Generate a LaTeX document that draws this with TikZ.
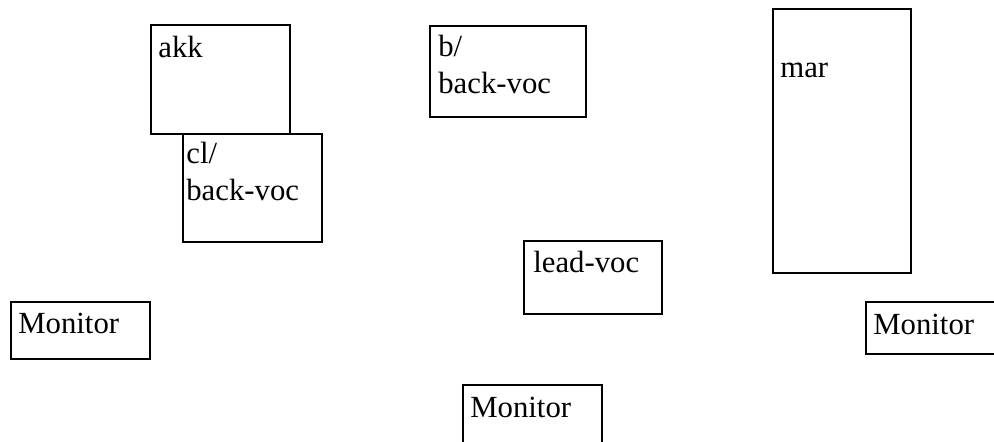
\documentclass[tikz,border=0pt]{standalone}
\usepackage{fontspec}
\setmainfont{Liberation Serif}

\begin{document}
\begin{tikzpicture}[x=0.02cm, y=-0.02cm,
    stage/.style={draw, line width=1.1pt, anchor=north west, inner sep=0pt},
    lbl/.style={anchor=base west, inner sep=0pt, align=left, font=\fontsize{17.5}{20.5}\selectfont}]
    \clip (0,0) rectangle (994,441);
    \node[stage, minimum width=2.78cm, minimum height=2.18cm] (akkbox) at (150,24) {};
        \node[lbl] (akk) at (158,57) {akk};
    \node[stage, minimum width=2.78cm, minimum height=2.16cm] (clbox) at (182,133) {};
        \node[lbl] (cl) at (186,200) {cl/\\back-voc};
    \node[stage, minimum width=3.12cm, minimum height=1.82cm] (bbox) at (429,25) {};
        \node[lbl] (b) at (438,93) {b/\\back-voc};
    \node[stage, minimum width=2.76cm, minimum height=1.46cm] (leadbox) at (523,240) {};
        \node[lbl] (lead) at (533,272) {lead-voc};
    \node[stage, minimum width=2.76cm, minimum height=5.28cm] (marbox) at (772,8) {};
        \node[lbl] (mar) at (780,77) {mar};
    \node[stage, minimum width=2.78cm, minimum height=1.14cm] (monLbox) at (10,301) {};
        \node[lbl] (monL) at (18,333) {Monitor};
    \node[stage, minimum width=3cm, minimum height=1.04cm] (monRbox) at (865,301) {};
        \node[lbl] (monR) at (873,334) {Monitor};
    \node[stage, minimum width=2.78cm, minimum height=1.6cm] (monBbox) at (462,384) {};
        \node[lbl] (monB) at (470,417) {Monitor};
\end{tikzpicture}
\end{document}
